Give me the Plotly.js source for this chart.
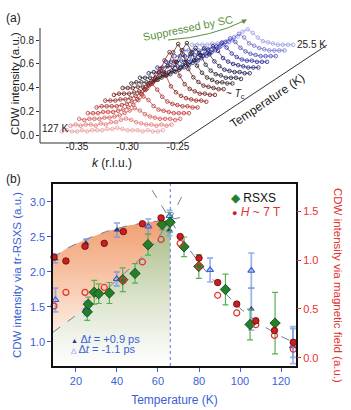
<!DOCTYPE html>
<html><head><meta charset="utf-8">
<script src="https://cdn.plot.ly/plotly-3.0.1.min.js"></script>
<style>html,body{margin:0;padding:0;background:#fff}#chart{width:351px;height:410px}</style>
</head><body><div id="chart"></div>
<script>
// ================= Panel (a) data: CDW scans vs k =================
const kGrid = [-0.365,-0.360,-0.355,-0.350,-0.345,-0.340,-0.335,-0.330,-0.325,-0.320,-0.315,-0.310,-0.305,-0.300,-0.295,-0.290,-0.285,-0.280,-0.275,-0.270,-0.265];
const scanTemps = [127,120,110,100,90,80,72,66,60,55,50,45,40,35,30,25.5];
const scanT127 = [0.03,0.04,0.03,0.03,0.04,0.03,0.04,0.04,0.04,0.05,0.05,0.06,0.05,0.04,0.04,0.04,0.03,0.04,0.03,0.03,0.04];
const scanT120 = [0.03,0.04,0.03,0.04,0.04,0.03,0.05,0.04,0.06,0.06,0.08,0.09,0.08,0.06,0.05,0.04,0.04,0.03,0.04,0.03,0.04];
const scanT110 = [0.04,0.03,0.04,0.04,0.04,0.05,0.05,0.06,0.07,0.09,0.11,0.13,0.11,0.08,0.06,0.05,0.04,0.04,0.04,0.03,0.04];
const scanT100 = [0.04,0.04,0.04,0.05,0.05,0.05,0.06,0.07,0.09,0.11,0.15,0.18,0.15,0.10,0.07,0.06,0.05,0.04,0.04,0.04,0.04];
const scanT90  = [0.04,0.05,0.05,0.05,0.05,0.06,0.07,0.09,0.11,0.15,0.20,0.24,0.19,0.13,0.09,0.07,0.06,0.05,0.05,0.04,0.04];
const scanT80  = [0.05,0.05,0.05,0.06,0.06,0.07,0.09,0.11,0.14,0.19,0.27,0.32,0.26,0.17,0.12,0.09,0.07,0.06,0.05,0.05,0.04];
const scanT72  = [0.05,0.06,0.06,0.06,0.07,0.08,0.10,0.13,0.17,0.24,0.34,0.41,0.33,0.21,0.14,0.10,0.08,0.06,0.06,0.05,0.05];
const scanT66  = [0.06,0.06,0.06,0.07,0.07,0.09,0.11,0.13,0.18,0.25,0.36,0.43,0.34,0.22,0.15,0.11,0.08,0.07,0.06,0.05,0.05];
const scanT60  = [0.05,0.06,0.06,0.06,0.07,0.08,0.10,0.12,0.16,0.23,0.33,0.39,0.31,0.20,0.14,0.10,0.08,0.06,0.06,0.05,0.05];
const scanT55  = [0.05,0.05,0.05,0.05,0.06,0.07,0.08,0.10,0.13,0.18,0.25,0.30,0.24,0.16,0.11,0.08,0.07,0.05,0.05,0.05,0.04];
const scanT50  = [0.04,0.05,0.05,0.05,0.05,0.06,0.07,0.09,0.11,0.15,0.21,0.25,0.20,0.14,0.10,0.07,0.06,0.05,0.05,0.04,0.04];
const scanT45  = [0.04,0.04,0.05,0.05,0.05,0.06,0.07,0.08,0.10,0.14,0.19,0.22,0.18,0.12,0.09,0.07,0.06,0.05,0.04,0.04,0.04];
const scanT40  = [0.04,0.04,0.04,0.05,0.05,0.05,0.06,0.07,0.09,0.12,0.17,0.20,0.16,0.11,0.08,0.06,0.05,0.05,0.04,0.04,0.04];
const scanT35  = [0.04,0.04,0.04,0.04,0.05,0.05,0.06,0.07,0.09,0.12,0.16,0.19,0.16,0.11,0.08,0.06,0.05,0.04,0.04,0.04,0.04];
const scanT30  = [0.04,0.04,0.04,0.04,0.05,0.05,0.06,0.07,0.09,0.11,0.15,0.18,0.15,0.10,0.08,0.06,0.05,0.04,0.04,0.04,0.04];
const scanT25  = [0.04,0.04,0.04,0.04,0.05,0.05,0.06,0.07,0.08,0.11,0.15,0.17,0.14,0.10,0.07,0.06,0.05,0.04,0.04,0.04,0.04];
const scans = [scanT127,scanT120,scanT110,scanT100,scanT90,scanT80,scanT72,scanT66,scanT60,scanT55,scanT50,scanT45,scanT40,scanT35,scanT30,scanT25];
const scanColors = ['#eb9a9a','#e27474','#d45454','#c23a3a','#a82a2a','#8e1e1e','#701818','#4c1616','#2c1a1e','#1c1c34','#16164e','#1c1c74','#2c2c98','#4a4ab8','#7070d0','#9a9ae6'];

// ================= Panel (b) data =================
const Tc = 66;
const rsxsT   = [25.5,26.0,28.9,31.1,36.3,42.8,48.8,55.1,62.0,65.9,72.7,79.9,92.9,104.9,117.1];
const rsxsI   = [1.43,1.54,1.71,1.69,1.70,1.89,1.98,2.39,2.68,2.71,2.36,2.08,1.75,1.25,1.27];
const rsxsErr = [0.12,0.10,0.17,0.14,0.15,0.17,0.14,0.15,0.08,0.14,0.14,0.17,0.22,0.22,0.44];

const fieldT      = [9.3,15.1,24.4,33.8,43.1,52.4,61.5,70.8,80.0,89.1,98.4,107.7,116.8,126.0];
const field7T     = [1.03,0.99,1.14,1.17,1.29,1.37,1.43,1.24,1.02,0.77,0.55,0.38,0.28,0.16];
const field0T     = [0.53,0.67,0.67,0.72,0.79,0.98,1.21,1.17,0.94,0.64,0.46,0.34,0.23,0.09];

const trPosT   = [9.8,24.9,40.0,65.6,105.5,125.8];
const trPosI   = [2.19,2.41,2.60,2.60,1.47,1.00];
const trPosErr = [0.06,0.06,0.10,0.08,0.30,0.22];
const trNegT   = [10.0,25.2,39.9,55.3,65.6,85.4,105.5,125.8];
const trNegI   = [1.60,1.48,1.90,2.65,2.80,2.03,2.02,0.94];
const trNegErr = [0.17,0.10,0.10,0.11,0.08,0.17,0.25,0.25];

const upperGuideT = [8.8,15,25,35,45,55,66,75];
const upperGuideV = [2.20,2.33,2.47,2.58,2.66,2.71,2.75,2.80];
const lowerGuideT = [8.8,20,30,40,50,58,66,73.2];
const lowerGuideV = [1.14,1.38,1.62,1.88,2.15,2.40,2.75,3.17];
const descGuideT  = [57.1,66,72,80,90,100,110,120,127.3];
const descGuideV  = [3.17,2.75,2.46,2.13,1.78,1.48,1.25,1.08,0.98];

// ================= helpers / styles =================
const W = 351, H = 410;
const fx = p => p / W, fy = p => 1 - p / H;
const FONT = 'Liberation Sans, Arial, Helvetica, sans-serif';
const BLUE = '#3a5fd6', RED = '#e5322d', GREEN_T = '#5a9040';
const STEP_K = 0.0086, STEP_I = 0.048;   // waterfall offset per scan
const X2RANGE = [8.8, 127.3], Y2RANGE = [0.657, 3.257], Y3RANGE = [-0.082, 1.776];

const traces = [];
// Panel (a): back scans first so front scans overlap them
for (let idx = scans.length - 1; idx >= 0; idx--) {
  traces.push({
    type: 'scatter', mode: 'lines+markers', xaxis: 'x', yaxis: 'y',
    name: scanTemps[idx] + ' K',
    x: kGrid.map(k => k + idx * STEP_K),
    y: scans[idx].map(v => v + idx * STEP_I),
    line: {color: scanColors[idx], width: 0.7},
    marker: {symbol: 'circle-open', size: 3.6, color: scanColors[idx], line: {width: 0.8}},
    cliponaxis: false, showlegend: false, hoverinfo: 'skip'
  });
}

// Panel (b) fills
const upSel = upperGuideT.map((t, i) => i).filter(i => upperGuideT[i] <= Tc);
const loSel = lowerGuideT.map((t, i) => i).filter(i => lowerGuideT[i] <= Tc);
traces.push({
  type: 'scatter', mode: 'none', xaxis: 'x2', yaxis: 'y2', fill: 'toself',
  x: upSel.map(i => upperGuideT[i]).concat(loSel.slice().reverse().map(i => lowerGuideT[i])),
  y: upSel.map(i => upperGuideV[i]).concat(loSel.slice().reverse().map(i => lowerGuideV[i])),
  fillgradient: {type: 'vertical', colorscale: [[0, 'rgb(252,236,226)'], [0.5, 'rgb(247,196,166)'], [1, 'rgb(240,158,112)']]},
  line: {width: 0}, showlegend: false, hoverinfo: 'skip'
});
traces.push({
  type: 'scatter', mode: 'none', xaxis: 'x2', yaxis: 'y2', fill: 'toself',
  x: loSel.map(i => lowerGuideT[i]).concat([Tc, X2RANGE[0]]),
  y: loSel.map(i => lowerGuideV[i]).concat([Y2RANGE[0], Y2RANGE[0]]),
  fillgradient: {type: 'vertical', colorscale: [[0, 'rgb(255,255,255)'], [0.45, 'rgb(220,228,206)'], [1, 'rgb(166,184,130)']]},
  line: {width: 0}, showlegend: false, hoverinfo: 'skip'
});
// Tc vertical dotted line
traces.push({
  type: 'scatter', mode: 'lines', xaxis: 'x2', yaxis: 'y2', x: [Tc, Tc], y: Y2RANGE,
  line: {color: '#6a86dc', width: 1.1, dash: 'dot'}, showlegend: false, hoverinfo: 'skip'
});
// dashed guides
[[upperGuideT, upperGuideV], [lowerGuideT, lowerGuideV], [descGuideT, descGuideV]].forEach(g => {
  traces.push({
    type: 'scatter', mode: 'lines', xaxis: 'x2', yaxis: 'y2', x: g[0], y: g[1],
    line: {color: '#6f7f9e', width: 1, dash: 'dash'}, showlegend: false, hoverinfo: 'skip'
  });
});
// tr-RSXS triangles
traces.push({
  type: 'scatter', mode: 'markers', xaxis: 'x2', yaxis: 'y2', name: 'Δt = -1.1 ps',
  x: trNegT, y: trNegI,
  error_y: {type: 'data', array: trNegErr, color: 'rgba(120,150,228,0.7)', thickness: 1.8, width: 3},
  marker: {symbol: 'triangle-up-open', size: 6, color: BLUE, line: {width: 1.2}},
  cliponaxis: false, showlegend: false
});
traces.push({
  type: 'scatter', mode: 'markers', xaxis: 'x2', yaxis: 'y2', name: 'Δt = +0.9 ps',
  x: trPosT, y: trPosI,
  error_y: {type: 'data', array: trPosErr, color: 'rgba(120,150,228,0.7)', thickness: 1.8, width: 3},
  marker: {symbol: 'triangle-up', size: 6, color: '#1f3a8a'},
  cliponaxis: false, showlegend: false
});
// magnetic field circles (right axis)
traces.push({
  type: 'scatter', mode: 'markers', xaxis: 'x2', yaxis: 'y3', name: '0 T',
  x: fieldT, y: field0T,
  marker: {symbol: 'circle-open', size: 6, color: RED, line: {width: 1.2}},
  cliponaxis: false, showlegend: false
});
traces.push({
  type: 'scatter', mode: 'markers', xaxis: 'x2', yaxis: 'y3', name: 'H ~ 7 T',
  x: fieldT, y: field7T,
  marker: {symbol: 'circle', size: 6.5, color: '#d01c1c', line: {color: '#5a0a0a', width: 0.8}},
  cliponaxis: false, showlegend: false
});
// RSXS diamonds
traces.push({
  type: 'scatter', mode: 'markers', xaxis: 'x2', yaxis: 'y2', name: 'RSXS',
  x: rsxsT, y: rsxsI,
  error_y: {type: 'data', array: rsxsErr, color: '#58b050', thickness: 1.2, width: 3},
  marker: {symbol: 'diamond', size: 8, color: '#23802a', line: {color: '#0e3e12', width: 0.8}},
  cliponaxis: false, showlegend: false
});

const ann = (px, py, text, opt) => Object.assign({
  xref: 'paper', yref: 'paper', x: fx(px), y: fy(py), text: text, showarrow: false,
  xanchor: 'center', yanchor: 'middle',
  font: {family: FONT, size: 11, color: '#222'}
}, opt || {});

const annotations = [
  ann(4, 18, '(a)', {xanchor: 'left', font: {family: FONT, size: 12, color: '#222'}}),
  ann(4, 179, '(b)', {xanchor: 'left', font: {family: FONT, size: 12, color: '#222'}}),
  ann(15, 84, 'CDW intensity (a.u.)', {textangle: -90, font: {family: FONT, size: 11.5, color: '#222'}}),
  ann(112, 163, '<i>k</i> (r.l.u.)', {font: {family: FONT, size: 12, color: '#222'}}),
  ann(55, 128, scanTemps[0] + ' K', {font: {family: FONT, size: 10, color: '#222'}}),
  ann(311, 45, scanTemps[scanTemps.length - 1] + ' K', {font: {family: FONT, size: 10, color: '#222'}}),
  ann(235, 94, '~ <i>T</i><sub>c</sub>', {font: {family: FONT, size: 10, color: '#222'}}),
  ann(267, 101, 'Temperature (K)', {textangle: -34, font: {family: FONT, size: 12, color: '#222'}}),
  ann(188, 28, 'Suppressed by SC', {textangle: -11.5, font: {family: FONT, size: 11, color: GREEN_T}}),
  {xref: 'paper', yref: 'paper', x: fx(247), y: fy(19.5), ax: -7, ay: 3.6, text: '', showarrow: true,
   arrowhead: 2, arrowsize: 1, arrowwidth: 1, arrowcolor: GREEN_T, standoff: 0},
  // panel (b) legends
  ann(229, 198, '<span style="color:#23802a">◆</span> RSXS', {xanchor: 'left', font: {family: FONT, size: 12, color: '#111'}}),
  ann(230, 212, '<span style="color:#d01c1c;font-size:9px">●</span> <span style="color:#e5322d"><i>H</i> ~ 7 T</span>', {xanchor: 'left', font: {family: FONT, size: 12, color: RED}}),
  ann(69, 339, '<span style="color:#1f3a8a;font-size:7px">▲</span> Δ<i>t</i> = +0.9 ps', {xanchor: 'left', font: {family: FONT, size: 11, color: BLUE}}),
  ann(69, 349, '<span style="font-size:7px">△</span> Δ<i>t</i> = -1.1 ps', {xanchor: 'left', font: {family: FONT, size: 11, color: BLUE}}),
  ann(338, 285, 'CDW intensity via magnetic field (a.u.)', {textangle: 90, font: {family: FONT, size: 11.5, color: RED}})
];

const shapes = [
  // panel (a) axis frame: y axis, k axis, temperature axis
  {type: 'line', xref: 'paper', yref: 'paper', x0: fx(40), x1: fx(40), y0: fy(143), y1: fy(28), line: {color: '#333', width: 1}},
  {type: 'line', xref: 'paper', yref: 'paper', x0: fx(40), x1: fx(179), y0: fy(143), y1: fy(143), line: {color: '#333', width: 1}},
  {type: 'line', xref: 'paper', yref: 'paper', x0: fx(179), x1: fx(327), y0: fy(143), y1: fy(45), line: {color: '#333', width: 1}},
  // curved green arrow
  {type: 'path', xref: 'paper', yref: 'paper',
   path: 'M ' + fx(168) + ' ' + fy(40) + ' Q ' + fx(212) + ' ' + fy(37) + ' ' + fx(246) + ' ' + fy(20),
   line: {color: GREEN_T, width: 1}}
];

const layout = {
  width: W, height: H, margin: {l: 0, r: 0, t: 0, b: 0},
  paper_bgcolor: '#fff', plot_bgcolor: 'rgba(0,0,0,0)', showlegend: false,
  font: {family: FONT, size: 10, color: '#222'},
  // panel (a): domain bottom placed at 139px so k tick labels sit right under the drawn axis line (143px)
  xaxis: {domain: [fx(40), fx(340)], range: [-0.38663, -0.0896], anchor: 'y',
    tickvals: [-0.35, -0.30, -0.25], ticktext: ['-0.35', '-0.30', '-0.25'],
    ticks: '', showline: false, zeroline: false, showgrid: false,
    tickfont: {family: FONT, size: 10, color: '#222'}, automargin: false},
  yaxis: {domain: [fy(139), fy(18)], range: [-0.0337, 0.9853], anchor: 'x',
    tickvals: [0, 0.2, 0.4, 0.6, 0.8], ticktext: ['0.0', '0.2', '0.4', '0.6', '0.8'],
    ticks: 'outside', ticklen: 3, tickcolor: '#333', showline: false, zeroline: false, showgrid: false,
    tickfont: {family: FONT, size: 10, color: '#222'}, automargin: false},
  xaxis2: {domain: [fx(53), fx(296)], range: X2RANGE, anchor: 'y2',
    tickvals: [20, 40, 60, 80, 100, 120], ticks: 'outside', ticklen: 4, tickcolor: BLUE,
    tickfont: {family: FONT, size: 11, color: BLUE},
    showline: true, linecolor: '#111', linewidth: 1.6, mirror: true, showgrid: false, zeroline: false,
    title: {text: 'Temperature (K)', font: {family: FONT, size: 12, color: BLUE}, standoff: 10}, automargin: false},
  yaxis2: {domain: [fy(366), fy(184)], range: Y2RANGE, anchor: 'x2',
    tickvals: [1, 1.5, 2, 2.5, 3], ticktext: ['1.0', '1.5', '2.0', '2.5', '3.0'],
    ticks: 'outside', ticklen: 4, tickcolor: BLUE, tickfont: {family: FONT, size: 11, color: BLUE},
    showline: true, linecolor: '#111', linewidth: 1.6, mirror: true, showgrid: false, zeroline: false,
    title: {text: 'CDW intensity via tr-RSXS (a.u.)', font: {family: FONT, size: 11.5, color: BLUE}, standoff: 6}, automargin: false},
  yaxis3: {overlaying: 'y2', side: 'right', anchor: 'x2', range: Y3RANGE,
    tickvals: [0, 0.5, 1, 1.5], ticktext: ['0.0', '0.5', '1.0', '1.5'],
    ticks: 'outside', ticklen: 4, tickcolor: RED, tickfont: {family: FONT, size: 11, color: RED},
    showline: false, showgrid: false, zeroline: false, automargin: false},
  annotations: annotations,
  shapes: shapes
};

Plotly.newPlot('chart', traces, layout, {displayModeBar: false, staticPlot: true});
</script>
</body></html>
